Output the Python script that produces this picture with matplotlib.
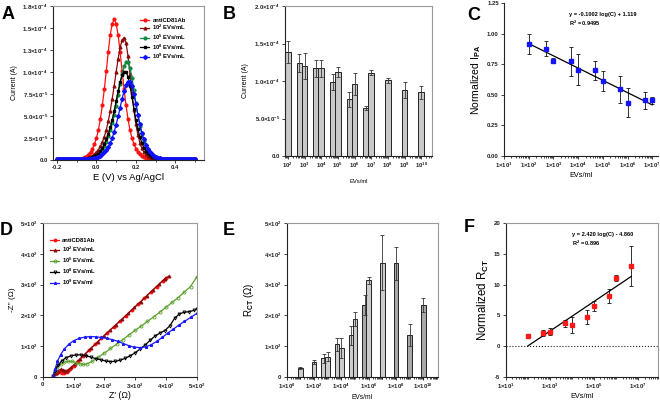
import numpy as np
import matplotlib
matplotlib.use("Agg")
import matplotlib.pyplot as plt
from matplotlib.ticker import FixedLocator, LogLocator, NullFormatter

plt.rcParams["font.family"] = ["Liberation Sans", "DejaVu Sans"]
plt.rcParams["font.weight"] = "bold"
plt.rcParams["mathtext.fontset"] = "custom"
plt.rcParams["mathtext.rm"] = "Liberation Sans:bold"
plt.rcParams["mathtext.it"] = "Liberation Sans:bold"
plt.rcParams["mathtext.bf"] = "Liberation Sans:bold"
plt.rcParams["axes.linewidth"] = 0.8

# ---- A: DPV curves (current in 1e-5 A) ----
E_V = np.round(np.arange(-20, 51) / 100, 2)
A_ANTI = [0.10] * 10 + [0.11, 0.13, 0.17, 0.23, 0.33, 0.46, 0.66, 0.92, 1.3, 1.8,
                        2.5, 3.4, 4.66, 6.2, 8.05, 10.1, 12.3, 14.2, 15.5, 16.0,
                        15.5, 14.2, 12.3, 10.1, 8.05, 6.2, 4.66, 3.4, 2.5, 1.8,
                        1.3, 0.92, 0.66, 0.46, 0.33, 0.23, 0.17, 0.13, 0.11] + [0.10] * 22
A_E2 = [0.10] * 12 + [0.11, 0.14, 0.17, 0.22, 0.29, 0.38, 0.50, 0.65, 0.88, 1.16,
                      1.54, 2.03, 2.66, 3.43, 4.41, 5.57, 6.95, 8.45, 10.0, 11.5,
                      12.8, 13.6, 13.9, 13.35, 11.8, 9.77, 7.6, 5.67, 4.07, 2.85,
                      1.98, 1.33, 0.93, 0.63, 0.42, 0.30, 0.22, 0.17, 0.14, 0.12,
                      0.11] + [0.10] * 18
A_E5 = [0.10] * 13 + [0.11, 0.12, 0.13, 0.16, 0.20, 0.26, 0.34, 0.45, 0.60, 0.81,
                      1.2, 1.6, 2.1, 2.7, 3.4, 4.25, 5.1, 6.19, 7.44, 8.68,
                      9.81, 10.67, 11.14, 11.12, 10.48, 9.35, 7.94, 6.46, 5.09, 3.90,
                      2.92, 2.16, 1.57, 1.14, 0.82, 0.59, 0.43, 0.32, 0.24, 0.19,
                      0.16, 0.14, 0.12, 0.11] + [0.10] * 14
A_E8 = [0.10] * 12 + [0.11, 0.12, 0.13, 0.15, 0.18, 0.24, 0.31, 0.41, 0.54, 0.73,
                      0.97, 1.35, 1.8, 2.35, 2.95, 3.7, 4.6, 5.58, 6.71, 7.83,
                      8.85, 9.62, 10.05, 10.03, 9.45, 8.43, 7.16, 5.83, 4.59, 3.52,
                      2.63, 1.95, 1.42, 1.03, 0.74, 0.53, 0.39, 0.29, 0.22, 0.17,
                      0.14, 0.12, 0.11] + [0.10] * 16
A_E9 = [0.10] * 16 + [0.11, 0.13, 0.16, 0.21, 0.27, 0.36, 0.48, 0.65, 0.86, 1.14,
                      1.50, 1.94, 2.51, 3.21, 4.02, 4.95, 5.95, 6.94, 7.85, 8.54,
                      8.91, 8.90, 8.38, 7.48, 6.35, 5.17, 4.07, 3.12, 2.34, 1.73,
                      1.26, 0.91, 0.66, 0.47, 0.34, 0.26, 0.19, 0.15, 0.13, 0.11] + [0.10] * 15
A_LABELS = ["antiCD81Ab", "10$^2$ EVs/mL", "10$^5$ EVs/mL", "10$^8$ EVs/mL", "10$^9$ EVs/mL"]
A_YT = [0, 2.5e-5, 5e-5, 7.5e-5, 1e-4, 1.25e-4, 1.5e-4, 1.75e-4]
A_YTL = ["0.0", "2.5×10$^{-5}$", "5.0×10$^{-5}$", "7.5×10$^{-5}$", "1.0×10$^{-4}$",
         "1.3×10$^{-4}$", "1.5×10$^{-4}$", "1.8×10$^{-4}$"]

# ---- B: peak current bars ----
B_CONC = [1e2, 5e2, 1e3, 5e3, 1e4, 5e4, 1e5, 5e5, 1e6, 5e6, 1e7, 1e8, 1e9, 1e10]
B_CUR = [1.39, 1.24, 1.20, 1.17, 1.17, 0.99, 1.12, 0.76, 0.96, 0.64, 1.11, 1.01, 0.88, 0.85]
B_ERR = [0.15, 0.12, 0.17, 0.11, 0.11, 0.11, 0.07, 0.10, 0.145, 0.022, 0.03, 0.03, 0.10, 0.09]
B_YT = [0, 5e-5, 1e-4, 1.5e-4, 2e-4]
B_YTL = ["0.0", "5.0×10$^{-5}$", "1.0×10$^{-4}$", "1.5×10$^{-4}$", "2.0×10$^{-4}$"]

# ---- C: normalized IPA ----
C_CONC = [1e2, 5e2, 1e3, 5e3, 1e4, 5e4, 1e5, 5e5, 1e6, 5e6, 1e7]
C_VAL = [0.918, 0.877, 0.777, 0.774, 0.706, 0.70, 0.614, 0.546, 0.434, 0.456, 0.456]
C_ERR = [0.082, 0.063, 0.02, 0.117, 0.13, 0.08, 0.08, 0.11, 0.118, 0.07, 0.03]
C_SLOPE, C_INT = -0.1002, 1.119

# ---- D: Nyquist (ohm) ----
D_ANTI_X = [34, 40, 47, 55, 63, 70, 78, 88, 100, 115, 130, 150, 170, 190, 210, 230,
            250, 270, 290, 310, 330, 350, 370, 390, 400]
D_ANTI_Y = [2, 8, 12, 14, 13, 12, 16, 25, 36, 51, 66, 86, 106, 125, 144, 162,
            180, 199, 218, 237, 256, 275, 294, 313, 323]
D_E2_X = [35, 42, 50, 58, 66, 74, 82, 92, 105, 120, 138, 158, 178, 198, 218, 238,
          258, 278, 298, 318, 338, 358, 378, 398, 410]
D_E2_Y = [2, 12, 20, 24, 23, 20, 22, 30, 42, 57, 74, 94, 113, 132, 151, 170,
          188, 207, 226, 245, 264, 283, 302, 320, 328]
D_E5_X = [34, 40, 48, 58, 70, 82, 95, 108, 120, 132, 145, 160, 180, 200, 220, 240,
          260, 280, 300, 320, 340, 360, 380, 400, 420, 440, 460, 480, 500]
D_E5_Y = [2, 18, 30, 40, 47, 50, 50, 46, 42, 40, 42, 50, 63, 77, 92, 106,
          121, 136, 151, 165, 180, 195, 210, 226, 242, 258, 276, 294, 325]
D_E8_X = [34, 40, 50, 62, 76, 92, 108, 124, 140, 156, 172, 188, 204, 220, 236, 252,
          268, 284, 300, 316, 332, 348, 364, 380, 396, 412, 428, 444, 460, 476, 490, 500]
D_E8_Y = [2, 20, 38, 52, 62, 68, 71, 71, 68, 64, 59, 55, 51, 49, 50, 54,
          60, 68, 78, 90, 103, 118, 132, 142, 150, 165, 190, 205, 210, 212, 216, 220]
D_E9_X = [34, 40, 48, 58, 70, 84, 100, 118, 136, 154, 172, 190, 208, 226, 244, 262,
          280, 298, 316, 334, 352, 370, 388, 406, 424, 442, 460, 480, 500]
D_E9_Y = [2, 25, 50, 72, 90, 105, 117, 125, 129, 131, 130, 128, 125, 121, 115, 108,
          101, 96, 95, 97, 104, 115, 128, 142, 155, 168, 180, 193, 206]
D_LABELS = ["antiCD81Ab", "10$^2$ EVs/mL", "10$^5$ EVs/mL", "10$^8$ EVs/mL", "10$^9$ EVs/ml"]
OHM_T = [0, 100, 200, 300, 400, 500]
OHM_TL = ["0", "1×10$^2$", "2×10$^2$", "3×10$^2$", "4×10$^2$", "5×10$^2$"]

# ---- E: RCT bars ----
E_CONC = [1e1, 1e2, 5e2, 1e3, 5e3, 1e4, 5e4, 1e5, 5e5, 1e6, 1e7, 1e8, 1e9, 1e10]
E_RCT = [27, 47, 60, 65, 106, 93, 135, 188, 233, 314, 372, 370, 136, 234]
E_ERR = [3, 7, 14, 15, 21, 32, 31, 22, 33, 12, 90, 54, 35, 22]
E_FILL = ["#cccccc"] * 8 + ["#a8a8a8", "#cccccc", "#cccccc", "#a8a8a8", "#a8a8a8", "#a8a8a8"]

# ---- F: normalized RCT ----
F_CONC = [1e2, 5e2, 1e3, 5e3, 1e4, 5e4, 1e5, 5e5, 1e6, 5e6]
F_VAL = [1.68, 2.07, 2.33, 3.7, 3.43, 4.73, 6.52, 8.16, 11.04, 13.05]
F_ERR = [0.15, 0.5, 0.6, 0.6, 1.3, 1.15, 0.85, 1.1, 0.5, 3.2]
F_SLOPE, F_INT = 2.420, -4.860

W, H = 660, 400
fig = plt.figure(figsize=(6.6, 4.0), dpi=100)


def axes_px(l, t, r, b):
    return fig.add_axes([l / W, 1 - b / H, (r - l) / W, (b - t) / H])


def style(ax, box=True):
    for s in ["left", "bottom"]:
        ax.spines[s].set_color("#222222")
    for s in ["top", "right"]:
        if box:
            ax.spines[s].set_color("#999999")
        else:
            ax.spines[s].set_visible(False)
    ax.tick_params(which="major", length=2.2, width=0.6, pad=1.5, labelsize=4.3, colors="#222222")
    ax.tick_params(which="minor", length=1.2, width=0.5)


def log_ticks(ax, decades, fmt):
    ax.set_xscale("log")
    ax.xaxis.set_major_locator(FixedLocator([10.0 ** d for d in decades]))
    ax.set_xticklabels([fmt.format(d) for d in decades])
    ax.xaxis.set_minor_locator(LogLocator(base=10, subs=np.arange(1, 10), numticks=30))
    ax.xaxis.set_minor_formatter(NullFormatter())


def log_bars(ax, conc, vals, errs, width, color):
    conc = np.array(conc)
    left = conc * 10 ** (-width / 2)
    ax.bar(left, vals, width=conc * (10 ** (width / 2) - 10 ** (-width / 2)), align="edge",
           color=color, edgecolor="#222222", linewidth=0.7, zorder=2)
    ax.errorbar(conc, vals, yerr=errs, fmt="none", ecolor="#333333", elinewidth=0.6,
                capsize=1.5, capthick=0.6, zorder=3)


# A
ax = axes_px(53, 6, 204, 160)
for vals, lab, col, mk in zip([A_ANTI, A_E2, A_E5, A_E8, A_E9], A_LABELS,
                              ["#ff1010", "#8b0a0a", "#118844", "#000000", "#1010ff"],
                              ["o", "^", "o", "s", "D"]):
    ax.plot(E_V, np.array(vals) * 1e-5, color=col, marker=mk, ms=2.0, lw=0.9, label=lab)
ax.set_xlim(-0.22, 0.545)
ax.set_ylim(0, 1.75e-4)
ax.set_xticks([-0.2, 0.0, 0.2, 0.4])
ax.set_xticklabels(["-0.2", "0.0", "0.2", "0.4"])
ax.set_xticks([-0.1, 0.1, 0.3, 0.5], minor=True)
ax.set_yticks(A_YT)
ax.set_yticklabels(A_YTL)
style(ax)
ax.set_xlabel("E (V) vs Ag/AgCl", fontsize=6.8, labelpad=2)
ax.set_ylabel("Current (A)", fontsize=5, labelpad=3)
ax.legend(loc="upper left", bbox_to_anchor=(0.55, 0.95), fontsize=4.2, frameon=False,
          handlelength=1.6, labelspacing=0.05, handletextpad=0.5, borderpad=0.2)

# B
ax = axes_px(285, 6, 432, 156)
log_bars(ax, B_CONC, np.array(B_CUR) * 1e-4, np.array(B_ERR) * 1e-4, 0.33, "#c8c8c8")
log_ticks(ax, range(2, 11), "10$^{{{}}}$")
ax.set_xlim(10 ** 1.83, 10 ** 10.65)
ax.set_ylim(0, 2e-4)
ax.set_yticks(B_YT)
ax.set_yticklabels(B_YTL)
style(ax)
ax.set_xlabel("EVs/ml", fontsize=4.2, labelpad=6)
ax.set_ylabel("Current (A)", fontsize=5, labelpad=4)

# C
ax = axes_px(504, 3, 658, 156)
ax.errorbar(C_CONC, C_VAL, yerr=C_ERR, fmt="none", ecolor="#111111", elinewidth=0.6,
            capsize=1.5, capthick=0.6, zorder=2)
fx = np.array([C_CONC[0], C_CONC[-1]])
ax.plot(fx, C_SLOPE * np.log10(fx) + C_INT, color="black", lw=0.9, zorder=3)
ax.plot(C_CONC, C_VAL, "s", color="#1414ff", ms=2.6, zorder=4)
log_ticks(ax, range(1, 8), "1×10$^{{{}}}$")
ax.set_xlim(10, 10 ** 7.23)
ax.set_ylim(0, 1.25)
ax.set_yticks([0, 0.25, 0.5, 0.75, 1.0, 1.25])
ax.set_yticklabels(["0.00", "0.25", "0.50", "0.75", "1.00", "1.25"])
style(ax, box=False)
ax.set_xlabel("EVs/ml", fontsize=5.3, labelpad=1)
ax.set_ylabel("Normalized I$_{PA}$", fontsize=7.5, labelpad=3)
ax.text(0.42, 0.928, "y = -0.1002 log(C) + 1.119", transform=ax.transAxes, fontsize=4.1, va="center")
ax.text(0.42, 0.869, "R$^2$ = 0.9495", transform=ax.transAxes, fontsize=4.1, va="center")

# D
ax = axes_px(42.7, 223.3, 196.7, 376.7)
for xs, ys, lab, col, mk, mfc in zip([D_ANTI_X, D_E2_X, D_E5_X, D_E8_X, D_E9_X],
                                     [D_ANTI_Y, D_E2_Y, D_E5_Y, D_E8_Y, D_E9_Y], D_LABELS,
                                     ["#ff1010", "#8b0a0a", "#5aa02c", "#000000", "#1a1aff"],
                                     ["o", "^", "o", "v", "*"],
                                     ["#ff1010", "#8b0a0a", "none", "none", "#1a1aff"]):
    ax.plot(xs, ys, color=col, marker=mk, ms=2.2, mfc=mfc, mew=0.6, lw=0.9, label=lab)
ax.set_xlim(0, 500)
ax.set_ylim(0, 500)
ax.set_xticks(OHM_T)
ax.set_xticklabels(OHM_TL)
ax.set_yticks(OHM_T)
ax.set_yticklabels(OHM_TL)
style(ax)
ax.set_xlabel("Z' (Ω)", fontsize=6.3, labelpad=0)
ax.set_ylabel("-Z'' (Ω)", fontsize=5.8, labelpad=3)
ax.legend(loc="upper left", bbox_to_anchor=(0.02, 0.93), fontsize=4.2, frameon=False,
          handlelength=1.6, labelspacing=0.3, handletextpad=0.5, borderpad=0.2)

# E
ax = axes_px(286.7, 223.3, 438.3, 376.7)
log_bars(ax, E_CONC, E_RCT, E_ERR, 0.33, E_FILL)
log_ticks(ax, range(0, 11, 2), "1×10$^{{{}}}$")
ax.set_xlim(1, 10 ** 11.1)
ax.set_ylim(0, 500)
ax.set_yticks(OHM_T)
ax.set_yticklabels(OHM_TL)
style(ax)
ax.set_xlabel("EVs/ml", fontsize=4.8, labelpad=2)
ax.set_ylabel("R$_{CT}$ (Ω)", fontsize=7, labelpad=6)

# F
ax = axes_px(505.5, 223.3, 658.3, 376.7)
ax.axhline(0, color="#222222", ls=":", lw=0.8, zorder=1)
ax.errorbar(F_CONC, F_VAL, yerr=F_ERR, fmt="none", ecolor="#111111", elinewidth=0.6,
            capsize=1.5, capthick=0.6, zorder=2)
fx = np.array([F_CONC[0], F_CONC[-1]])
ax.plot(fx, F_SLOPE * np.log10(fx) + F_INT, color="black", lw=0.9, zorder=3)
ax.plot(F_CONC, F_VAL, "s", color="#ff1a1a", ms=2.6, zorder=4)
log_ticks(ax, range(1, 8, 2), "1×10$^{{{}}}$")
ax.set_xlim(10, 10 ** 7.92)
ax.set_ylim(-5, 20)
ax.set_yticks([-5, 0, 5, 10, 15, 20])
ax.set_yticklabels(["-5", "0", "5", "10", "15", "20"])
style(ax)
ax.set_xlabel("EVs/ml", fontsize=5.3, labelpad=1)
ax.set_ylabel("Normalized R$_{CT}$", fontsize=8.3, labelpad=2)
ax.text(0.433, 0.93, "y = 2.420 log(C) - 4.860", transform=ax.transAxes, fontsize=4.1, va="center")
ax.text(0.433, 0.872, "R$^2$ = 0.896", transform=ax.transAxes, fontsize=4.1, va="center")

# panel letters
for lab, x, y in [("A", 2, 6), ("B", 223, 6), ("C", 467, 7), ("D", 0, 222), ("E", 223, 222), ("F", 464, 219)]:
    fig.text(x / W, 1 - y / H, lab, fontsize=13, weight="bold", ha="left", va="top")

fig.savefig("out.png", dpi=100)
